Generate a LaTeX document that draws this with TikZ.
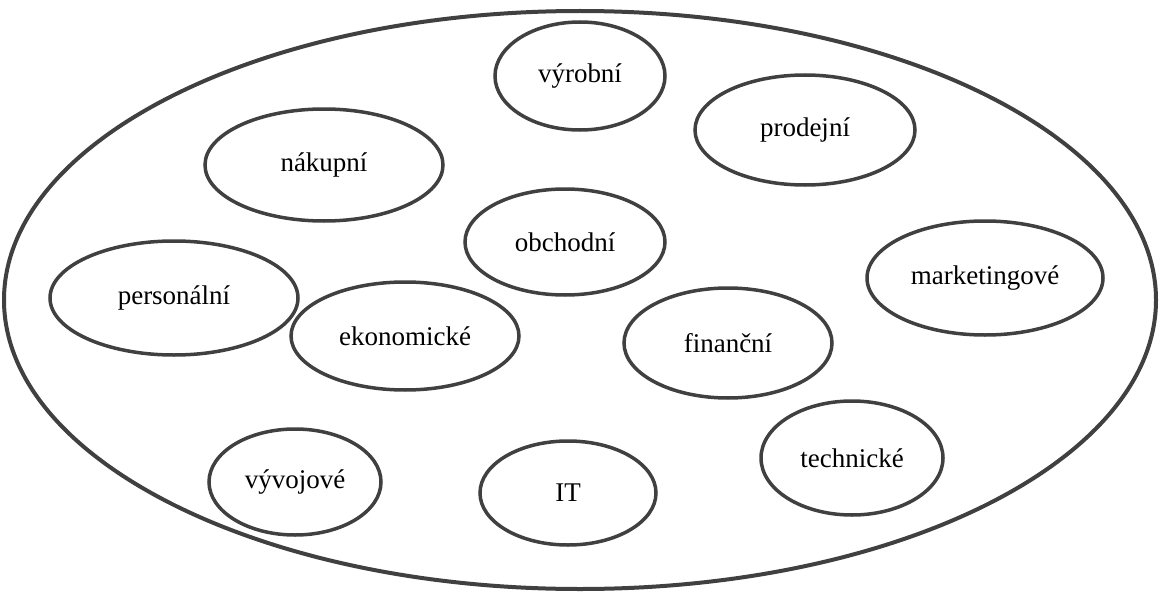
\documentclass[tikz,border=0pt]{standalone}
\usepackage{fontspec}
\setmainfont{Liberation Serif}
\usetikzlibrary{shapes.geometric}
\definecolor{ink}{HTML}{404040}
\tikzset{
  dept/.style={draw=ink, line width=3.5pt, ellipse, inner sep=0pt,
    font=\fontsize{27}{30}\selectfont, text=black},
}
\begin{document}
\begin{tikzpicture}[x=1pt,y=-1pt]
\useasboundingbox (0,0) rectangle (1160,594);
% outer boundary
\node[draw=ink, line width=4pt, ellipse, minimum width=1152pt, minimum height=578pt] (all) at (580,300) {};
% departments
\node[dept, minimum width=170pt, minimum height=108pt] (vyrobni) at (580,76) {výrobní};
\node[dept, minimum width=238pt, minimum height=112pt] (nakupni) at (324,165) {nákupní};
\node[dept, minimum width=220pt, minimum height=110pt] (prodejni) at (805,130) {prodejní};
\node[dept, minimum width=200pt, minimum height=106pt] (obchodni) at (565,242) {obchodní};
\node[dept, minimum width=248pt, minimum height=114pt] (personalni) at (174,298) {personální};
\node[dept, minimum width=236pt, minimum height=114pt] (marketing) at (985,278) {marketingové};
\node[dept, minimum width=228pt, minimum height=108pt] (ekonom) at (405,336) {ekonomické};
\node[dept, minimum width=208pt, minimum height=110pt] (financni) at (728,343) {finanční};
\node[dept, minimum width=172pt, minimum height=106pt] (vyvoj) at (295,482) {vývojové};
\node[dept, minimum width=176pt, minimum height=104pt] (it) at (568,493) {IT};
\node[dept, minimum width=182pt, minimum height=114pt] (tech) at (852,458) {technické};
\end{tikzpicture}
\end{document}
